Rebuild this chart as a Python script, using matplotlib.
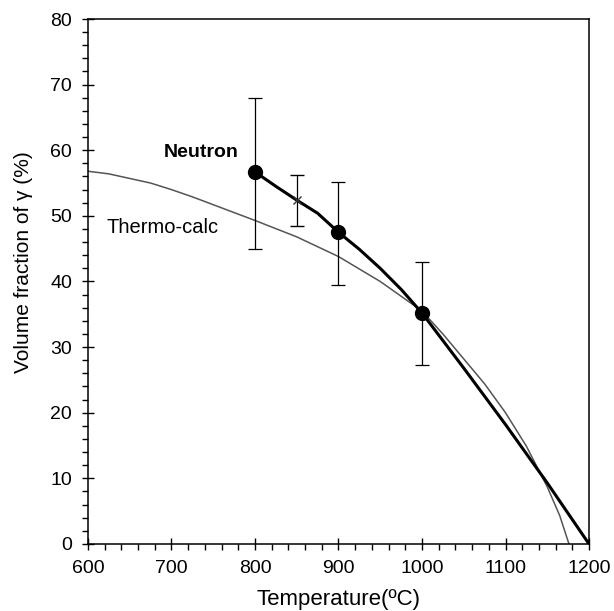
import matplotlib.pyplot as plt
from matplotlib.ticker import MultipleLocator

plt.rcParams['font.family'] = ['Liberation Sans', 'DejaVu Sans']

# thermo-calc prediction
tc_temp = [600, 625, 650, 675, 700, 725, 750, 775, 800, 850, 900, 950,
           1000, 1025, 1050, 1075, 1100, 1125, 1150, 1165, 1176]
tc_frac = [56.8, 56.4, 55.7, 55.0, 54.0, 52.9, 51.7, 50.5, 49.3, 46.8, 43.8, 40.0,
           35.5, 32.0, 28.2, 24.4, 20.0, 14.9, 8.7, 4.3, 0.0]

# neutron fitted curve
nt_temp = [800, 825, 850, 875, 900, 925, 950, 975, 1000, 1050, 1100, 1150, 1200]
nt_frac = [56.7, 54.5, 52.4, 50.4, 47.5, 44.9, 42.0, 38.8, 35.2, 26.8, 18.2, 9.3, 0.0]

# neutron measurements
pt_temp = [800, 900, 1000]
pt_frac = [56.7, 47.5, 35.2]
pt_lo = [45.0, 39.5, 27.2]
pt_hi = [68.0, 55.2, 43.0]
x_temp = [850]
x_frac = [52.4]
x_lo = [48.5]
x_hi = [56.2]

fig = plt.figure(figsize=(6.14, 6.11), dpi=100)
ax = fig.add_axes([0.1433, 0.1097, 0.816, 0.8592])

ax.plot(tc_temp, tc_frac, color='#555555', lw=1.1)
ax.plot(nt_temp, nt_frac, color='black', lw=2.2)

err = [[f - l for f, l in zip(pt_frac, pt_lo)], [h - f for f, h in zip(pt_frac, pt_hi)]]
ax.errorbar(pt_temp, pt_frac, yerr=err, fmt='o', color='black', ms=10,
            ecolor='black', elinewidth=0.9, capsize=5, capthick=0.9)
xerr = [[f - l for f, l in zip(x_frac, x_lo)], [h - f for f, h in zip(x_frac, x_hi)]]
ax.errorbar(x_temp, x_frac, yerr=xerr, fmt='x', color='#333333', ms=6, mew=1,
            ecolor='black', elinewidth=0.9, capsize=5, capthick=0.9)

ax.text(780, 59.6, 'Neutron', fontsize=14, fontweight='bold', ha='right', va='center')
ax.text(622, 48.3, 'Thermo-calc', fontsize=14.5, ha='left', va='center')

ax.set_xlim(600, 1200)
ax.set_ylim(0, 80)
ax.xaxis.set_major_locator(MultipleLocator(100))
ax.xaxis.set_minor_locator(MultipleLocator(20))
ax.yaxis.set_major_locator(MultipleLocator(10))
ax.yaxis.set_minor_locator(MultipleLocator(2))
ax.tick_params(which='major', direction='inout', length=9, width=1, labelsize=14, pad=7)
ax.tick_params(which='minor', direction='out', length=4, width=1)
for s in ax.spines.values():
    s.set_linewidth(1.1)

ax.set_xlabel('Temperature(ºC)', fontsize=16)
ax.set_ylabel('Volume fraction of γ (%)', fontsize=15)
ax.xaxis.set_label_coords(0.5, -0.085)
ax.yaxis.set_label_coords(-0.11, 0.537)

fig.savefig('out.png', dpi=100)
